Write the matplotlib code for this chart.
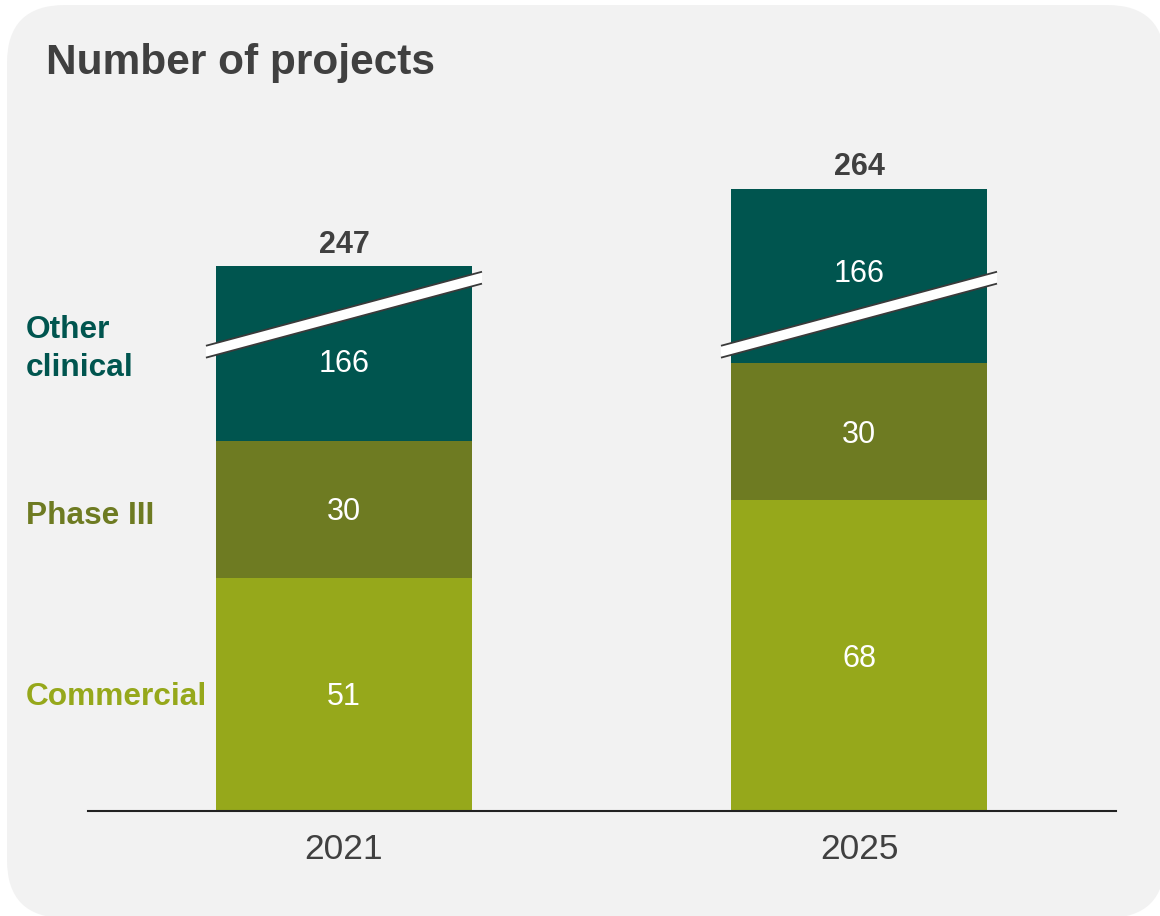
import matplotlib
matplotlib.use('Agg')
import matplotlib.pyplot as plt
from matplotlib.patches import FancyBboxPatch, Polygon
from matplotlib.transforms import IdentityTransform, blended_transform_factory

# ---- data ----
years = ['2021', '2025']
commercial = [51, 68]
phase3 = [30, 30]
other_clinical = [166, 166]
totals = [247, 264]
series_names = ['Commercial', 'Phase III', 'Other\nclinical']
series_colors = ['#96a81b', '#6e7b22', '#00554f']

# ---- layout constants (not data) ----
OTHER_SHOWN = 38.2          # visual height of the broken "Other clinical" segment
BREAK_Y = (100.5, 116.7)    # centre of the break band at its left / right end
BREAK_HALF = 1.3            # half thickness of the break band
BREAK_HALFW = 0.268         # half width of the break band
OTHER_LABEL_Y = [98.5, 118.2]
LEFT_LABEL_BASELINE = [23.2, 62.8, 95.2]   # baseline of last line
BAR_W = 0.497
TXT = '#404040'

plt.rcParams['font.family'] = ['Liberation Sans', 'DejaVu Sans']

fig = plt.figure(figsize=(11.6, 9.16), dpi=100)
fig.patch.set_facecolor('white')
bg = FancyBboxPatch((7, -2), 1158, 913, boxstyle='round,pad=0,rounding_size=58',
                    transform=IdentityTransform(), facecolor='#f2f2f2',
                    edgecolor='none', zorder=-5)
fig.add_artist(bg)

ax = fig.add_axes([88 / 1160, 105 / 916, 1028 / 1160, 711 / 916])
ax.set_facecolor('none')
ax.set_xlim(-0.497, 1.499)
ax.set_ylim(0, 711 / 4.57)

x = list(range(len(years)))
ax.bar(x, commercial, width=BAR_W, color=series_colors[0], linewidth=0, zorder=2)
ax.bar(x, phase3, width=BAR_W, bottom=commercial, color=series_colors[1], linewidth=0, zorder=2)
bottoms_other = [c + p for c, p in zip(commercial, phase3)]
ax.bar(x, [OTHER_SHOWN] * len(x), width=BAR_W, bottom=bottoms_other,
       color=series_colors[2], linewidth=0, zorder=2)

fs_val = 22
for i in x:
    # segment labels
    for val, ctr in [(commercial[i], commercial[i] / 2),
                     (phase3[i], commercial[i] + phase3[i] / 2),
                     (other_clinical[i], OTHER_LABEL_Y[i])]:
        ax.annotate(str(val), (i, ctr), xytext=(0, -0.358 * fs_val), textcoords='offset points',
                    ha='center', va='baseline', color='white', fontsize=fs_val, zorder=5)
    # break band
    xl, xr = i - BREAK_HALFW, i + BREAK_HALFW
    yl, yr = BREAK_Y
    poly = Polygon([(xl, yl - BREAK_HALF), (xr, yr - BREAK_HALF),
                    (xr, yr + BREAK_HALF), (xl, yl + BREAK_HALF)],
                   closed=True, facecolor='white', edgecolor='none', zorder=3)
    ax.add_patch(poly)
    for s in (-1, 1):
        ax.plot([xl, xr], [yl + s * BREAK_HALF, yr + s * BREAK_HALF], color='#3a3a3a',
                lw=1.3, solid_capstyle='butt', zorder=4)
    # totals
    top = bottoms_other[i] + OTHER_SHOWN
    ax.annotate(str(totals[i]), (i, top), xytext=(0, 9.5), textcoords='offset points',
                ha='center', va='baseline', color=TXT, fontsize=22, fontweight='bold')

# axes styling
for s in ['top', 'right', 'left']:
    ax.spines[s].set_visible(False)
ax.spines['bottom'].set_color('#222222')
ax.spines['bottom'].set_linewidth(1.5)
ax.spines['bottom'].set_zorder(6)
ax.set_yticks([])
ax.set_xticks(x, years)
ax.tick_params(axis='x', length=0, pad=16, labelsize=25.5, labelcolor=TXT)

# left series labels
tr = blended_transform_factory(fig.transFigure, ax.transData)
for name, col, yb in zip(series_names, series_colors, LEFT_LABEL_BASELINE):
    fig.text(26 / 1160, yb, name, transform=tr, ha='left', va='baseline', color=col,
             fontsize=22.8, fontweight='bold', linespacing=1.33)

fig.text(46 / 1160, 1 - 74 / 916, 'Number of projects', ha='left', va='baseline',
         color=TXT, fontsize=30.5, fontweight='bold')

fig.savefig('out.png', dpi=100)
